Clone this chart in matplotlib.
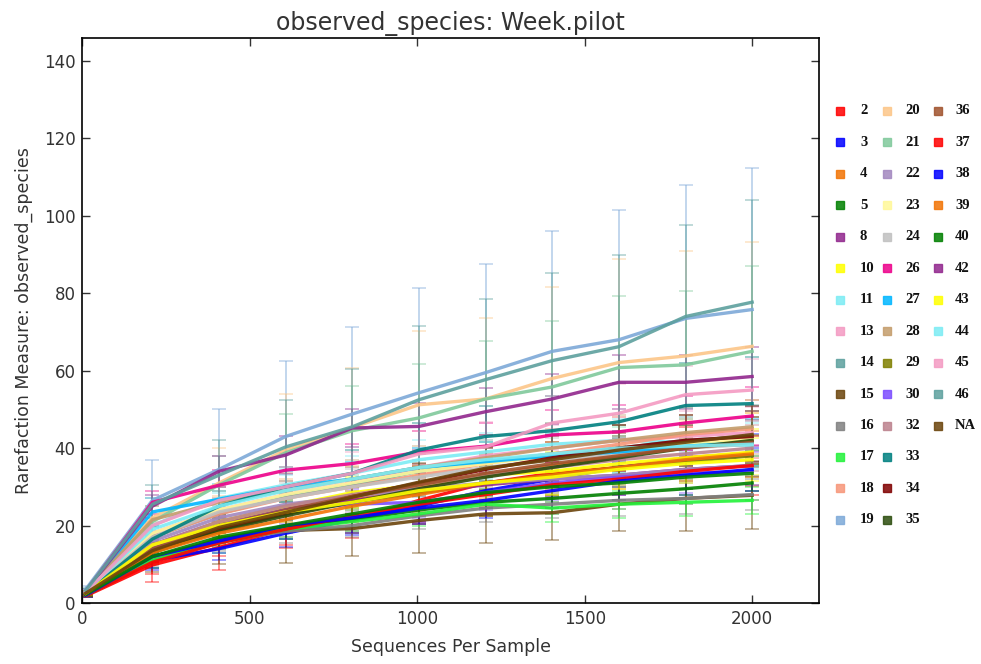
import matplotlib
matplotlib.use('Agg')
import matplotlib.pyplot as plt
from matplotlib.lines import Line2D

plt.rcParams['font.family'] = ['DejaVu Sans']

# rarefaction depths (sequences per sample)
depths = [10, 209, 408, 607, 806, 1005, 1204, 1403, 1602, 1801, 2000]

labels = ['2', '3', '4', '5', '8', '10', '11', '13', '14', '15', '16', '17', '18', '19',
          '20', '21', '22', '23', '24', '26', '27', '28', '29', '30', '32', '33', '34', '35',
          '36', '37', '38', '39', '40', '42', '43', '44', '45', '46', 'NA']

colors = ['#ff0000', '#0000ff', '#f27304', '#008000', '#91278d', '#ffff00', '#7cecf4',
          '#f49ac2', '#5da09e', '#6b440b', '#808080', '#22f23a', '#f79679', '#7da9d8',
          '#fcc688', '#80c99b', '#a287bf', '#fff899', '#c0c0c0', '#ed008a', '#00b6ff',
          '#c49c6b', '#808000', '#7b4cff', '#bc828d', '#008080', '#800000', '#2c4d0e',
          '#a0522d', '#ff0000', '#0000ff', '#f27304', '#008000', '#91278d', '#ffff00',
          '#7cecf4', '#f49ac2', '#5da09e', '#6b440b']

# mean observed species per group, one row per label
means = [
    [1.8, 9.8, 14.3, 19.2, 21.3, 26.5, 31.0, 33.5, 35.0, 37.5, 38.7],    # 2
    [2.0, 11.0, 14.0, 18.0, 21.5, 25.0, 29.0, 32.0, 35.0, 37.0, 38.2],   # 3
    [2.5, 14.0, 19.0, 23.0, 27.0, 30.0, 33.0, 35.5, 38.0, 40.5, 42.0],   # 4
    [2.0, 11.0, 16.5, 19.5, 21.5, 24.0, 26.0, 27.0, 28.3, 29.5, 31.0],   # 5
    [2.5, 15.0, 21.0, 24.5, 26.5, 28.5, 30.5, 32.0, 33.0, 34.5, 35.5],   # 8
    [2.5, 14.5, 21.0, 25.0, 28.5, 30.5, 33.0, 34.0, 36.0, 37.5, 39.0],   # 10
    [3.0, 20.0, 27.0, 30.5, 33.5, 37.0, 39.0, 41.0, 42.0, 41.5, 40.5],   # 11
    [2.8, 18.0, 24.0, 28.0, 31.0, 35.0, 38.0, 40.0, 42.0, 43.0, 44.0],   # 13
    [2.5, 17.0, 23.0, 27.5, 30.5, 34.0, 36.5, 38.5, 40.0, 42.0, 43.0],   # 14
    [2.0, 12.0, 16.0, 18.7, 19.2, 21.3, 23.0, 23.3, 25.5, 27.0, 27.8],   # 15
    [2.0, 11.5, 16.0, 18.5, 20.0, 22.5, 24.5, 25.5, 26.5, 27.0, 28.0],   # 16
    [2.0, 11.0, 15.5, 19.0, 21.0, 23.0, 25.5, 24.5, 25.5, 26.0, 26.5],   # 17
    [3.0, 17.0, 23.0, 27.0, 30.0, 33.0, 36.0, 38.5, 41.0, 43.5, 45.0],   # 18
    [3.5, 26.5, 34.5, 43.0, 48.8, 54.3, 59.5, 65.0, 68.0, 73.5, 75.8],   # 19
    [3.0, 22.0, 31.0, 39.5, 45.3, 51.2, 52.7, 58.0, 62.1, 63.8, 66.3],   # 20
    [3.0, 21.0, 30.5, 38.8, 44.5, 47.8, 52.7, 55.8, 60.8, 61.5, 65.0],   # 21
    [2.8, 16.0, 22.0, 25.5, 27.5, 29.5, 31.0, 32.0, 33.0, 34.5, 35.5],   # 22
    [3.0, 18.0, 24.0, 28.0, 31.0, 34.0, 36.0, 38.0, 39.5, 41.0, 42.5],   # 23
    [2.8, 17.0, 23.5, 27.0, 30.0, 32.5, 35.0, 37.0, 38.5, 40.0, 41.0],   # 24
    [3.0, 26.0, 30.4, 34.3, 36.0, 39.0, 40.5, 43.4, 44.2, 46.5, 48.3],   # 26
    [3.0, 23.5, 26.8, 30.0, 32.0, 35.0, 36.5, 38.0, 39.0, 40.5, 41.5],   # 27
    [3.0, 21.5, 26.0, 29.0, 32.0, 35.0, 37.5, 40.0, 42.0, 44.0, 45.5],   # 28
    [2.3, 13.5, 19.0, 23.0, 26.0, 28.5, 31.0, 33.0, 35.0, 36.5, 38.0],   # 29
    [2.5, 14.0, 20.0, 24.0, 25.5, 26.0, 28.5, 31.0, 32.5, 33.5, 34.0],   # 30
    [2.5, 15.0, 21.0, 25.0, 28.0, 30.5, 33.0, 35.0, 37.0, 38.5, 40.0],   # 32
    [2.5, 16.5, 25.0, 30.0, 33.5, 39.5, 43.0, 44.5, 46.8, 51.0, 51.5],   # 33
    [2.3, 13.0, 19.0, 23.0, 27.5, 31.0, 34.5, 37.5, 40.0, 42.0, 43.0],   # 34
    [2.2, 13.0, 18.5, 22.5, 26.0, 29.5, 32.5, 35.0, 37.5, 40.0, 42.0],   # 35
    [2.5, 14.0, 20.0, 24.0, 27.5, 30.5, 33.5, 36.0, 38.0, 40.0, 41.5],   # 36
    [2.0, 10.5, 15.5, 19.0, 22.5, 25.5, 28.0, 30.5, 32.0, 34.0, 35.5],   # 37
    [2.0, 12.0, 16.0, 20.0, 22.0, 24.5, 26.5, 29.0, 31.5, 33.0, 34.5],   # 38
    [2.3, 13.0, 18.0, 21.5, 25.0, 28.0, 31.0, 33.0, 35.0, 37.0, 38.5],   # 39
    [2.2, 12.0, 17.0, 20.0, 23.0, 26.0, 28.5, 30.0, 31.0, 32.5, 33.5],   # 40
    [3.0, 25.0, 34.0, 38.2, 45.2, 45.6, 49.4, 52.7, 57.0, 57.0, 58.5],   # 42
    [2.5, 15.0, 20.0, 23.5, 26.0, 29.0, 31.0, 32.5, 34.5, 36.0, 37.0],   # 43
    [3.0, 19.0, 25.0, 29.0, 32.0, 35.0, 37.0, 38.5, 40.0, 40.5, 41.0],   # 44
    [2.8, 20.0, 26.5, 30.0, 33.5, 38.5, 40.3, 46.5, 49.0, 53.8, 55.0],   # 45
    [3.2, 25.5, 33.0, 40.3, 45.5, 52.5, 57.7, 62.6, 66.2, 74.0, 77.7],   # 46
    [2.5, 13.5, 19.5, 23.4, 27.3, 31.2, 34.8, 37.0, 39.5, 41.5, 43.5],   # NA
]

# standard deviations (error bars)
errs = [
    [0.4, 4.5, 5.7, 5.0, 4.5, 5.5, 6.0, 6.5, 7.0, 8.0, 8.5],
    [0.4, 2.5, 3.0, 3.5, 4.0, 4.0, 4.5, 4.5, 5.0, 5.0, 5.5],
    [0.5, 3.0, 4.0, 4.5, 5.0, 5.5, 6.0, 6.0, 6.5, 7.0, 7.0],
    [0.4, 2.0, 2.5, 3.0, 3.0, 3.5, 3.5, 4.0, 4.0, 4.0, 4.5],
    [0.5, 2.5, 3.0, 3.5, 4.0, 4.0, 4.5, 4.5, 5.0, 5.0, 5.0],
    [0.5, 2.5, 3.5, 4.0, 4.0, 4.5, 5.0, 5.0, 5.5, 5.5, 6.0],
    [0.5, 3.0, 3.5, 4.0, 4.5, 5.0, 5.0, 5.5, 5.5, 6.0, 6.0],
    [0.5, 3.0, 3.5, 4.0, 4.5, 5.0, 5.5, 6.0, 6.0, 6.5, 6.5],
    [0.5, 3.0, 3.5, 4.0, 4.5, 5.0, 5.0, 5.5, 6.0, 6.0, 6.5],
    [0.5, 4.0, 6.0, 8.5, 7.0, 8.3, 7.5, 7.0, 7.0, 8.5, 8.8],
    [0.4, 2.0, 2.5, 3.0, 3.0, 3.5, 3.5, 3.5, 4.0, 4.0, 4.0],
    [0.4, 2.0, 2.5, 2.5, 3.0, 3.0, 3.0, 3.5, 3.5, 3.5, 3.5],
    [0.5, 3.0, 4.0, 4.5, 5.0, 5.5, 6.0, 6.5, 7.0, 7.0, 7.5],
    [0.8, 10.5, 15.5, 19.5, 22.5, 27.0, 28.0, 31.0, 33.5, 34.5, 36.5],
    [0.6, 5.0, 9.0, 14.5, 15.5, 19.0, 21.0, 23.5, 26.7, 27.0, 27.0],
    [0.6, 4.0, 7.5, 10.0, 11.5, 14.0, 15.0, 17.0, 18.4, 19.0, 22.0],
    [0.5, 2.5, 3.0, 3.5, 4.0, 4.0, 4.5, 4.5, 5.0, 5.0, 5.0],
    [0.5, 3.0, 3.5, 4.0, 4.5, 5.0, 5.5, 5.5, 6.0, 6.0, 6.5],
    [0.5, 3.0, 3.5, 4.0, 4.5, 4.5, 5.0, 5.5, 5.5, 6.0, 6.0],
    [0.5, 3.0, 4.0, 4.5, 5.0, 5.5, 6.0, 6.5, 7.0, 7.0, 7.5],
    [0.5, 3.5, 4.0, 4.0, 4.5, 5.0, 5.0, 5.5, 5.5, 6.0, 6.0],
    [0.5, 3.5, 4.0, 4.5, 5.0, 5.5, 6.0, 6.5, 6.5, 7.0, 7.0],
    [0.4, 2.5, 3.0, 3.5, 4.0, 4.0, 4.5, 4.5, 5.0, 5.0, 5.5],
    [0.5, 2.5, 3.0, 3.5, 4.0, 4.0, 4.5, 4.5, 4.5, 5.0, 5.0],
    [0.5, 2.5, 3.0, 3.5, 4.0, 4.5, 5.0, 5.0, 5.5, 5.5, 6.0],
    [0.5, 3.0, 4.0, 5.0, 6.0, 7.0, 8.0, 9.0, 10.0, 11.0, 12.0],
    [0.4, 2.5, 3.5, 4.0, 4.5, 5.0, 5.5, 6.0, 6.0, 6.5, 6.5],
    [0.4, 2.5, 3.0, 3.5, 4.0, 4.5, 5.0, 5.0, 5.5, 6.0, 6.0],
    [0.5, 2.5, 3.5, 4.0, 4.5, 5.0, 5.0, 5.5, 6.0, 6.0, 6.5],
    [0.4, 3.0, 3.5, 4.0, 4.5, 5.0, 5.5, 6.0, 6.5, 7.0, 7.5],
    [0.4, 3.0, 3.0, 3.5, 4.0, 4.0, 4.5, 4.5, 5.0, 5.0, 5.5],
    [0.4, 2.5, 3.0, 3.5, 4.0, 4.5, 5.0, 5.0, 5.5, 5.5, 6.0],
    [0.4, 2.0, 2.5, 3.0, 3.5, 3.5, 4.0, 4.0, 4.5, 4.5, 4.5],
    [0.5, 3.0, 4.0, 5.0, 5.0, 6.0, 6.0, 6.5, 7.0, 7.0, 7.5],
    [0.5, 2.5, 3.0, 3.5, 4.0, 4.0, 4.5, 4.5, 5.0, 5.0, 5.5],
    [0.5, 3.0, 3.5, 4.0, 4.5, 5.0, 5.0, 5.5, 5.5, 6.0, 6.0],
    [0.5, 3.0, 4.0, 5.0, 5.5, 6.0, 6.5, 7.0, 7.5, 7.5, 8.0],
    [0.7, 5.0, 9.0, 12.0, 15.0, 19.0, 20.7, 22.6, 23.7, 23.7, 26.5],
    [0.5, 3.0, 3.5, 4.0, 4.5, 5.0, 5.5, 6.0, 6.5, 7.0, 7.5],
]

fig = plt.figure(figsize=(9.81, 6.64), dpi=100)
ax = fig.add_axes([0.084, 0.092, 0.751, 0.851])

for m, e, c in zip(means, errs, colors):
    ax.errorbar(depths, m, yerr=e, fmt='none', ecolor=c, elinewidth=1.3,
                capsize=5, capthick=1.1, alpha=0.5)
for m, c in zip(means, colors):
    ax.plot(depths, m, color=c, lw=2.4, alpha=0.9)

ax.set_xlim(0, 2200)
ax.set_ylim(0, 146)
ax.set_xticks([0, 500, 1000, 1500, 2000])
ax.set_yticks(range(0, 141, 20))
ax.tick_params(direction='in', top=True, right=True, length=5.5, width=1,
               labelsize=12, colors='#333333', pad=5)
for sp in ax.spines.values():
    sp.set_linewidth(1.2)

ax.set_title('observed_species: Week.pilot', fontsize=17, color='#333333', pad=6)
ax.set_xlabel('Sequences Per Sample', fontsize=12.5, color='#333333', labelpad=7)
ax.set_ylabel('Rarefaction Measure: observed_species', fontsize=12.5, color='#333333',
              labelpad=8)

# legend laid out by hand: 14 rows per column like the original
col_marker_x = [840, 887, 938]
col_text_x = [860, 905, 955]
W, H = 981.0, 664.0
for i, (lab, c) in enumerate(zip(labels, colors)):
    col = i // 14
    row = i % 14
    y = 111 + 31.45 * row
    fig.add_artist(Line2D([col_marker_x[col] / W], [1 - y / H], marker='s',
                          markersize=6, color=c, markeredgecolor=c, alpha=0.85,
                          transform=fig.transFigure))
    fig.text(col_text_x[col] / W, 1 - y / H, lab, ha='left', va='center',
             fontsize=10.5, fontweight='bold', family='Liberation Serif',
             color='#111111')

fig.savefig('out.png', dpi=100)
